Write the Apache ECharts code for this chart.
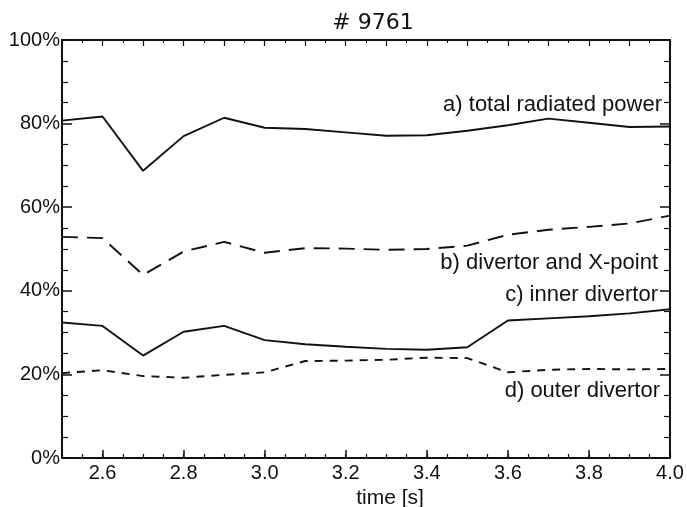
<!DOCTYPE html>
<html>
<head>
<meta charset="utf-8">
<script src="https://cdn.jsdelivr.net/npm/echarts@6/dist/echarts.min.js"></script>
<style>
  html, body { margin: 0; padding: 0; background: #ffffff; }
  #chart { width: 687px; height: 507px; }
</style>
</head>
<body>
<div id="chart"></div>
<script>
// Time samples [s]
const times = [2.5, 2.6, 2.7, 2.8, 2.9, 3.0, 3.1, 3.2, 3.3, 3.4, 3.5, 3.6, 3.7, 3.8, 3.9, 4.0];

// Fractions of heating power [%]
const totalRadiated  = [80.7, 81.7, 68.7, 77.0, 81.4, 79.0, 78.7, 77.9, 77.1, 77.2, 78.3, 79.6, 81.2, 80.2, 79.2, 79.3];
const divertorXpoint = [52.9, 52.6, 43.8, 49.4, 51.7, 49.1, 50.2, 50.1, 49.8, 50.0, 50.8, 53.4, 54.6, 55.3, 56.1, 58.0];
const innerDivertor  = [32.4, 31.6, 24.5, 30.2, 31.6, 28.2, 27.2, 26.6, 26.1, 25.9, 26.5, 32.9, 33.4, 33.9, 34.6, 35.6];
const outerDivertor  = [20.3, 21.0, 19.6, 19.2, 19.9, 20.5, 23.2, 23.3, 23.5, 24.0, 23.9, 20.5, 21.1, 21.3, 21.2, 21.3];

// Axis ticks / labels
const xLabelValues = [2.6, 2.8, 3.0, 3.2, 3.4, 3.6, 3.8, 4.0];

const seriesNames = [
  'a) total radiated power',
  'b) divertor and X-point',
  'c) inner divertor',
  'd) outer divertor'
];

const pairs = arr => times.map((t, i) => [t, arr[i]]);

const FONT = '"Liberation Sans", Arial, sans-serif';
const INK = '#111';

const chart = echarts.init(document.getElementById('chart'), null, { renderer: 'canvas' });

const frameLine = { show: true, lineStyle: { color: INK, width: 2 } };

chart.setOption({
  animation: false,
  backgroundColor: '#ffffff',
  title: {
    text: '# 9761',
    left: 368,
    textAlign: 'center',
    top: 7,
    textStyle: { fontFamily: '"DejaVu Sans", sans-serif', fontSize: 22, fontWeight: 'normal', color: INK }
  },
  grid: { left: 62, right: 17, top: 40, bottom: 49, containLabel: false, outerBoundsMode: 'none' },
  xAxis: [
    {
      type: 'value', position: 'bottom', min: 2.5, max: 4.0,
      axisLine: frameLine,
      axisTick: { show: true, inside: true, length: 8, customValues: xLabelValues,
                  lineStyle: { color: INK, width: 1.5 } },
      axisLabel: { show: true, customValues: xLabelValues, margin: 5,
                   formatter: v => v.toFixed(1),
                   fontFamily: FONT, fontSize: 20, color: INK },
      splitLine: { show: false },
      name: 'time [s]', nameLocation: 'middle', nameGap: 24,
      nameTextStyle: { fontFamily: FONT, fontSize: 21, color: INK, padding: [0, 0, 0, 48] }
    },
    {
      type: 'value', position: 'bottom', min: 2.5, max: 4.0, interval: 0.05,
      axisLine: { show: false },
      axisTick: { show: true, inside: true, length: 4, lineStyle: { color: INK, width: 1.2 } },
      axisLabel: { show: false },
      splitLine: { show: false }
    },
    {
      type: 'value', position: 'top', min: 2.5, max: 4.0, interval: 0.1,
      axisLine: frameLine,
      axisTick: { show: true, inside: true, length: 6, lineStyle: { color: INK, width: 1.2 } },
      minorTick: { show: true, splitNumber: 2, length: 3, lineStyle: { color: INK, width: 1 } },
      axisLabel: { show: false },
      splitLine: { show: false }
    }
  ],
  yAxis: [
    {
      type: 'value', position: 'left', min: 0, max: 100, interval: 20,
      axisLine: frameLine,
      axisTick: { show: true, inside: true, length: 10, lineStyle: { color: INK, width: 1.5 } },
      minorTick: { show: true, splitNumber: 4, length: 6, lineStyle: { color: INK, width: 1.2 } },
      axisLabel: { formatter: '{value}%', margin: 2, fontFamily: FONT, fontSize: 20, color: INK },
      splitLine: { show: false }
    },
    {
      type: 'value', position: 'right', min: 0, max: 100, interval: 20,
      axisLine: frameLine,
      axisTick: { show: true, inside: true, length: 10, lineStyle: { color: INK, width: 1.5 } },
      minorTick: { show: true, splitNumber: 4, length: 6, lineStyle: { color: INK, width: 1.2 } },
      axisLabel: { show: false },
      splitLine: { show: false }
    }
  ],
  series: [
    { name: seriesNames[0], type: 'line', data: pairs(totalRadiated), showSymbol: false,
      lineStyle: { color: INK, width: 1.9, type: 'solid' } },
    { name: seriesNames[1], type: 'line', data: pairs(divertorXpoint), showSymbol: false,
      lineStyle: { color: INK, width: 1.9, type: [16, 9] } },
    { name: seriesNames[2], type: 'line', data: pairs(innerDivertor), showSymbol: false,
      lineStyle: { color: INK, width: 1.9, type: 'solid' } },
    { name: seriesNames[3], type: 'line', data: pairs(outerDivertor), showSymbol: false,
      lineStyle: { color: INK, width: 1.9, type: [8, 7] } }
  ],
  graphic: [
    { type: 'text', right: 25, top: 94,  style: { text: seriesNames[0], font: '22px ' + FONT, fill: INK } },
    { type: 'text', right: 29, top: 252, style: { text: seriesNames[1], font: '22px ' + FONT, fill: INK } },
    { type: 'text', right: 29, top: 284, style: { text: seriesNames[2], font: '22px ' + FONT, fill: INK } },
    { type: 'text', right: 27, top: 380, style: { text: seriesNames[3], font: '22px ' + FONT, fill: INK } }
  ]
});
</script>
</body>
</html>
